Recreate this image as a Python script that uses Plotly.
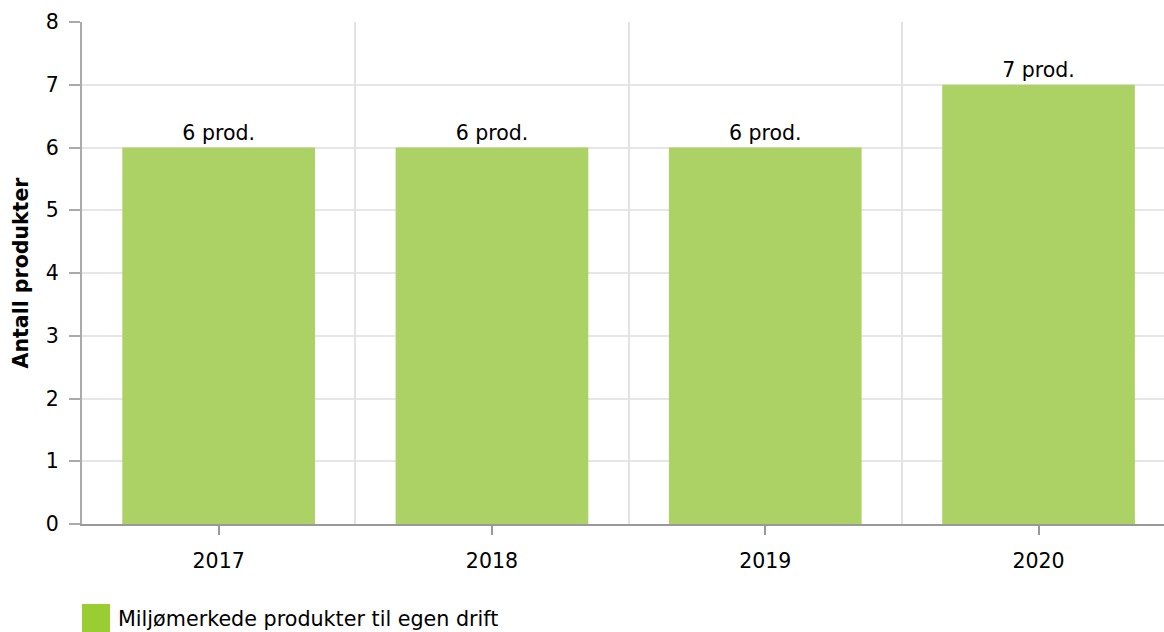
import plotly.graph_objects as go

years = ["2017", "2018", "2019", "2020"]
counts = [6, 6, 6, 7]
labels = ["6 prod.", "6 prod.", "6 prod.", "7 prod."]
series_name = "Miljømerkede produkter til egen drift"
y_title = "Antall produkter"

FONT = "DejaVu Sans, Verdana, sans-serif"
FS = 20.5
W, H = 1164, 632
L, R, T, B = 82, 0, 22, 108
PH = H - T - B
PW = W - L - R

fig = go.Figure()
fig.add_trace(go.Bar(
    x=list(range(len(years))), y=counts, text=labels,
    textposition="outside", cliponaxis=False,
    textfont=dict(family=FONT, size=FS, color="#000000"),
    marker=dict(color="#acd266", line=dict(width=0)),
    width=0.705, showlegend=False, name=series_name,
))
# invisible trace on xaxis2 to activate boundary gridlines
fig.add_trace(go.Scatter(x=[0], y=[0], xaxis="x2", mode="markers",
                         marker=dict(opacity=0), showlegend=False, hoverinfo="skip"))

xr = [-0.5, -0.5 + PW / 273.3]
fig.update_layout(
    width=W, height=H,
    margin=dict(l=L, r=R, t=T, b=B),
    plot_bgcolor="white", paper_bgcolor="white",
    font=dict(family=FONT, size=FS, color="#000000"),
    xaxis=dict(range=xr, tickvals=list(range(len(years))), ticktext=years,
               showgrid=False, zeroline=False, showline=True, linecolor="#999999", linewidth=2,
               ticks="outside", ticklen=9, tickcolor="#999999", tickwidth=2,
               tickfont=dict(family=FONT, size=FS), ticklabelstandoff=8),
    xaxis2=dict(range=xr, overlaying="x", tickvals=[0.5, 1.5, 2.5], showticklabels=False,
                showgrid=True, gridcolor="#e3e3e3", gridwidth=2, zeroline=False, showline=False,
                ticks=""),
    yaxis=dict(range=[0, 8], dtick=1, showgrid=True, gridcolor="#e6e6e6", gridwidth=2,
               zeroline=False, showline=True, linecolor="#aaaaaa", linewidth=2,
               ticks="outside", ticklen=11, tickcolor="#aaaaaa", tickwidth=2,
               tickfont=dict(family=FONT, size=FS), ticklabelstandoff=6,
               title=dict(text="<b>" + y_title + "</b>", font=dict(family=FONT, size=FS), standoff=12)),
    showlegend=False,
)
# manual legend
fig.add_shape(type="rect", xref="paper", yref="paper",
              x0=0, x1=28 / PW,
              y0=-(632 - 524) / PH, y1=-(604 - 524) / PH,
              fillcolor="#9acd32", line=dict(width=0), layer="above")
fig.add_annotation(text=series_name, xref="paper", yref="paper",
                   x=34 / PW, y=-(619 - 524) / PH,
                   xanchor="left", yanchor="middle", showarrow=False,
                   font=dict(family=FONT, size=FS + 0.2, color="#000000"))

fig.write_html("out.html", config={"displayModeBar": False},
               post_script="document.body.style.margin='0';document.body.style.overflow='hidden';")
